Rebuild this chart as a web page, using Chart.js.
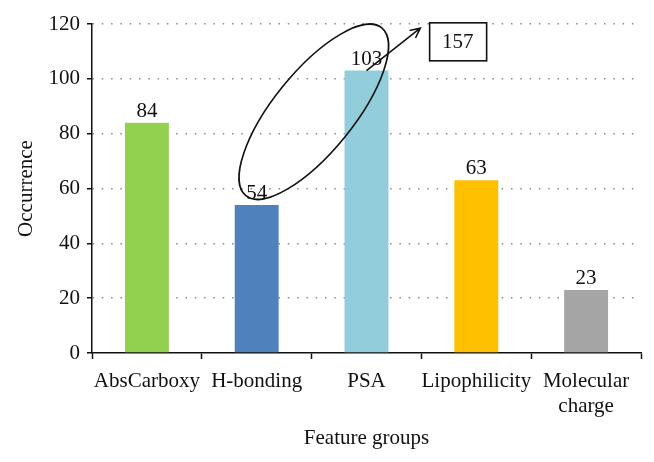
<!DOCTYPE html>
<html>
<head>
<meta charset="utf-8">
<script src="https://cdn.jsdelivr.net/npm/chart.js@4/dist/chart.umd.min.js"></script>
<style>
  body { margin: 0; background: #fff; }
</style>
</head>
<body>
<canvas id="chart" width="654" height="462"></canvas>
<script>
const categories = ['AbsCarboxy', 'H-bonding', 'PSA', 'Lipophilicity', ['Molecular', 'charge']];
const occurrence = [84, 54, 103, 63, 23];
const barColors = ['#92D050', '#4F81BD', '#92CDDC', '#FFC000', '#A5A5A5'];
const yTicks = [0, 20, 40, 60, 80, 100, 120];

// circled pair (H-bonding + PSA) and its total
const totalLabel = '157';
const ellipseAt = [1.52, 88];
const arrowFrom = [2, 103];
const arrowTo = [2.49, 118.5];
const boxAt = [2.83, 113.5];

const FONT = '"Liberation Serif", "Times New Roman", serif';

const annotations = {
  id: 'annotations',
  afterDatasetsDraw(chart) {
    const { ctx, scales: { x, y } } = chart;
    const px = p => [x.getPixelForValue(p[0]), y.getPixelForValue(p[1])];
    ctx.save();
    ctx.fillStyle = '#111';
    ctx.font = '21px ' + FONT;
    ctx.textAlign = 'center';
    ctx.textBaseline = 'alphabetic';
    chart.getDatasetMeta(0).data.forEach((bar, i) => {
      ctx.fillText(String(occurrence[i]), bar.x, bar.y - 6);
    });

    ctx.strokeStyle = '#111';
    ctx.lineWidth = 1.6;
    // ellipse
    const [ex, ey] = px(ellipseAt);
    ctx.beginPath();
    ctx.ellipse(ex, ey, 108, 40, -51 * Math.PI / 180, 0, Math.PI * 2);
    ctx.stroke();

    // arrow
    const [ax, ay] = px(arrowFrom);
    const [bx, by] = px(arrowTo);
    ctx.beginPath();
    ctx.moveTo(ax, ay);
    ctx.lineTo(bx, by);
    const ang = Math.atan2(by - ay, bx - ax);
    const head = 11;
    ctx.moveTo(bx - head * Math.cos(ang - 0.45), by - head * Math.sin(ang - 0.45));
    ctx.lineTo(bx, by);
    ctx.lineTo(bx - head * Math.cos(ang + 0.45), by - head * Math.sin(ang + 0.45));
    ctx.stroke();

    // total box
    const [cx, cy] = px(boxAt);
    ctx.fillStyle = '#fff';
    ctx.fillRect(cx - 28, cy - 19, 57, 38);
    ctx.strokeRect(cx - 28, cy - 19, 57, 38);
    ctx.fillStyle = '#111';
    ctx.textBaseline = 'middle';
    ctx.fillText(totalLabel, cx, cy + 1);
    ctx.restore();
  }
};

new Chart(document.getElementById('chart'), {
  type: 'bar',
  data: {
    labels: categories,
    datasets: [{
      data: occurrence,
      backgroundColor: barColors,
      categoryPercentage: 0.8,
      barPercentage: 0.5
    }]
  },
  options: {
    responsive: false,
    animation: false,
    layout: { padding: { top: 24, right: 13, left: 0, bottom: 11 } },
    plugins: {
      legend: { display: false },
      tooltip: { enabled: false }
    },
    scales: {
      x: {
        afterFit: scale => { scale.height = 98; },
        grid: {
          offset: true,
          drawOnChartArea: false,
          drawTicks: true,
          tickLength: 6,
          tickColor: '#111',
          tickWidth: 1.5
        },
        border: { color: '#111', width: 1.5 },
        ticks: {
          color: '#111',
          padding: 10,
          maxRotation: 0,
          autoSkip: false,
          font: { family: FONT, size: 21, lineHeight: 1.2 }
        },
        title: {
          display: true,
          text: 'Feature groups',
          color: '#111',
          padding: { top: 4, bottom: 0 },
          font: { family: FONT, size: 21 }
        }
      },
      y: {
        min: 0,
        max: 120,
        afterFit: scale => { scale.width = 92; },
        afterBuildTicks: scale => { scale.ticks = yTicks.map(v => ({ value: v })); },
        grid: {
          color: ctx => ctx.tick && ctx.tick.value === 0 ? 'rgba(0,0,0,0)' : '#8a8a8a',
          lineWidth: 1.5,
          drawTicks: true,
          tickLength: 5,
          tickColor: '#111',
          tickWidth: 1.5,
          tickBorderDash: []
        },
        border: { color: '#111', width: 1.5, dash: [1.5, 7.8] },
        ticks: {
          color: '#111',
          padding: 7,
          font: { family: FONT, size: 21 }
        },
        title: {
          display: true,
          text: 'Occurrence',
          color: '#111',
          padding: { top: 14, bottom: 0 },
          font: { family: FONT, size: 21 }
        }
      }
    }
  },
  plugins: [annotations]
});
</script>
</body>
</html>
